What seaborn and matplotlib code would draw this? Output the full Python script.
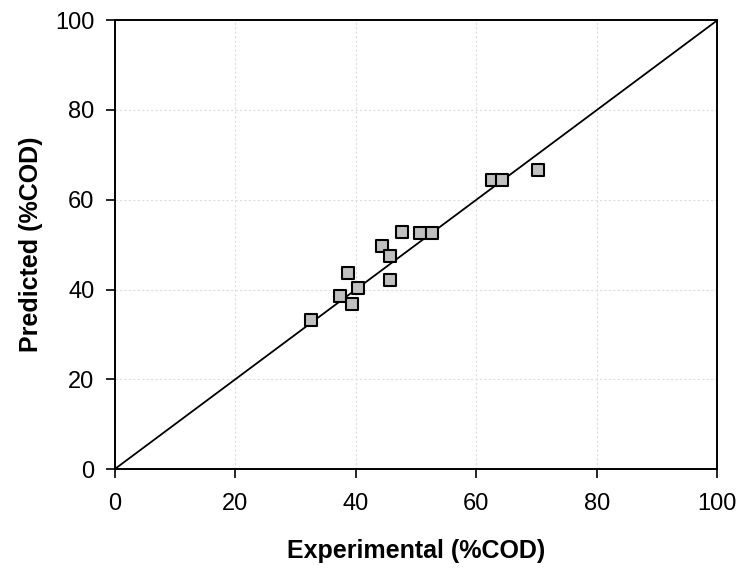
import matplotlib
matplotlib.use("Agg")
import matplotlib.pyplot as plt
import seaborn as sns
import pandas as pd

experimental = [32.5, 37.4, 38.7, 39.3, 40.4, 44.4, 45.7, 45.7, 47.7, 50.7, 52.6, 62.6, 64.3, 70.2]
predicted = [33.3, 38.6, 43.6, 36.8, 40.4, 49.8, 47.5, 42.2, 52.9, 52.5, 52.5, 64.5, 64.5, 66.7]
ref_line = [0, 100]
ticks = [0, 20, 40, 60, 80, 100]

sns.set_theme(style="white")
plt.rcParams['font.family'] = ['Liberation Sans', 'DejaVu Sans']

fig = plt.figure(figsize=(7.45, 5.77), dpi=100)
ax = fig.add_axes([0.154, 0.187, 0.809, 0.778])

df = pd.DataFrame({"x": experimental, "y": predicted})
line_df = pd.DataFrame({"x": ref_line, "y": ref_line})

sns.lineplot(data=line_df, x="x", y="y", ax=ax, color="black", linewidth=1.3, zorder=2)
sns.scatterplot(data=df, x="x", y="y", ax=ax, marker="s", s=85, color="#c0c0c0",
                edgecolor="black", linewidth=1.5, zorder=3)

ax.set_xlim(0, 100)
ax.set_ylim(0, 100)
ax.set_xticks(ticks)
ax.set_yticks(ticks)
ax.grid(True, color="#dcdcdc", linewidth=0.8, linestyle=(0, (2, 2)))
ax.set_axisbelow(True)
for s in ax.spines.values():
    s.set_color("black")
    s.set_linewidth(1.4)
ax.tick_params(axis="both", direction="out", length=6.5, width=1.2, color="black",
               labelsize=17, labelcolor="black", bottom=True, left=True)
ax.tick_params(axis="y", pad=8)
ax.tick_params(axis="x", pad=11)
ax.set_xlabel("Experimental (%COD)", fontsize=18, fontweight="bold", labelpad=17, color="black")
ax.set_ylabel("Predicted (%COD)", fontsize=18, fontweight="bold", labelpad=9, color="black")

fig.savefig("out.png", dpi=100)
